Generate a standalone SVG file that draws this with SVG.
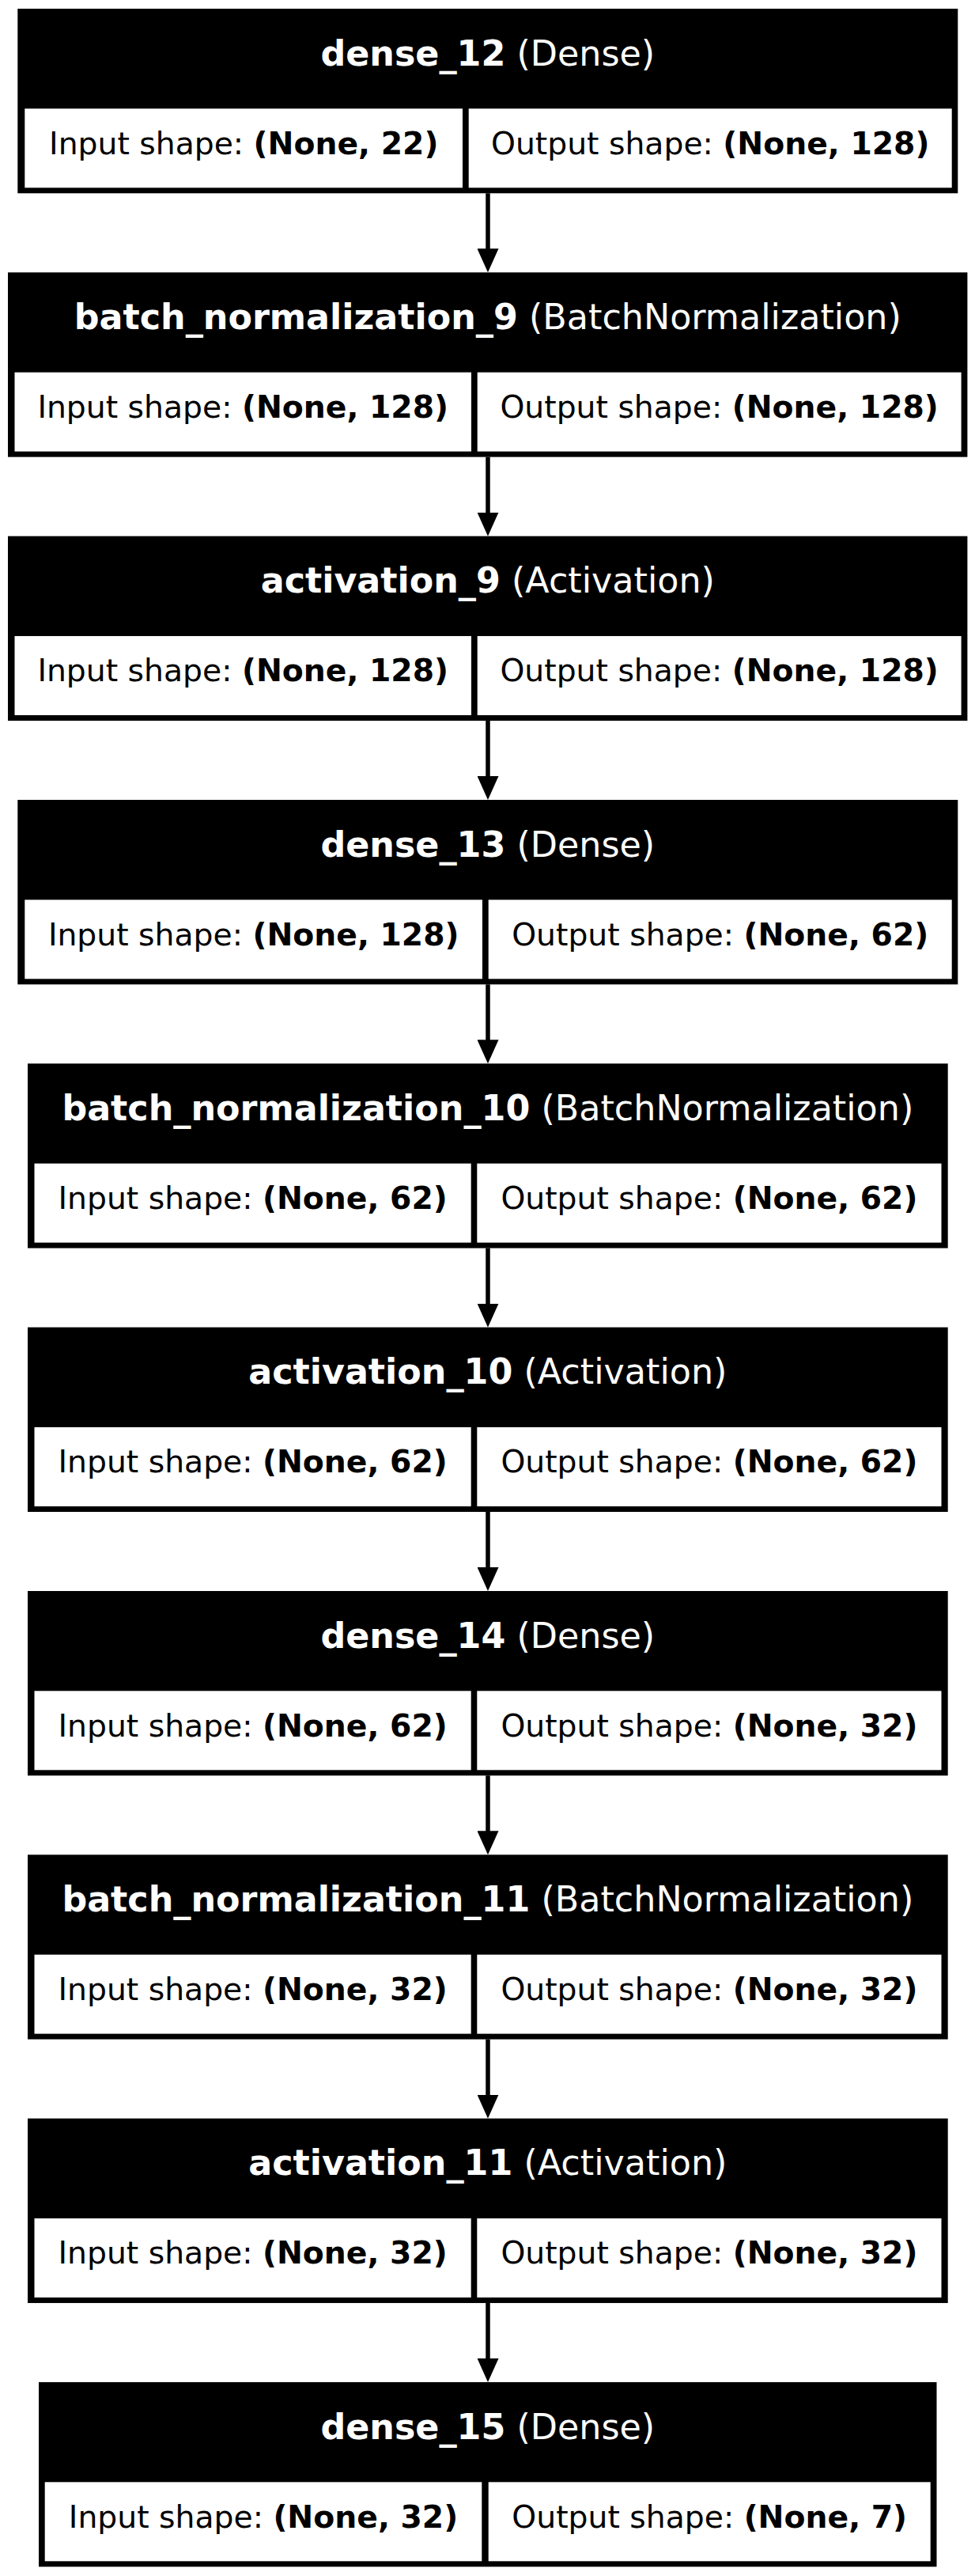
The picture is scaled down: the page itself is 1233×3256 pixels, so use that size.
<svg xmlns="http://www.w3.org/2000/svg" width="1233" height="3256" viewBox="0 0 1233 3256">
<style>
.bg{fill:#ffffff}
.box{fill:#000000}
.cell{fill:#ffffff}
.hd{font-family:"DejaVu Sans","Liberation Sans",sans-serif;font-size:44.4px;fill:#ffffff;text-anchor:middle}
.rw{font-family:"DejaVu Sans","Liberation Sans",sans-serif;font-size:39.3px;fill:#000000;text-anchor:middle}
.b{font-weight:bold}
.edge{stroke:#000000;stroke-width:5.5;fill:none}
</style>
<defs>
<marker id="arr" viewBox="0 0 30 27" refX="2" refY="13.5" markerWidth="30" markerHeight="27" markerUnits="userSpaceOnUse" orient="auto">
<path d="M0,0 L30,13.5 L0,27 z" fill="#000000"/>
</marker>
</defs>
<rect class="bg" x="0" y="0" width="1233" height="3256"/>

<g id="connectors">
<path class="edge" marker-end="url(#arr)" d="M617,244.3 L617,316.3"/>
<path class="edge" marker-end="url(#arr)" d="M617,577.6 L617,649.7"/>
<path class="edge" marker-end="url(#arr)" d="M617,911 L617,983"/>
<path class="edge" marker-end="url(#arr)" d="M617,1244.3 L617,1316.3"/>
<path class="edge" marker-end="url(#arr)" d="M617,1577.6 L617,1649.7"/>
<path class="edge" marker-end="url(#arr)" d="M617,1911 L617,1983"/>
<path class="edge" marker-end="url(#arr)" d="M617,2244.3 L617,2316.3"/>
<path class="edge" marker-end="url(#arr)" d="M617,2577.6 L617,2649.7"/>
<path class="edge" marker-end="url(#arr)" d="M617,2911 L617,2983"/>
</g>

<g id="dense_12" transform="translate(0,11)">
<rect class="box" x="22.3" y="0" width="1189" height="233.3"/>
<rect class="cell" x="31.3" y="126.3" width="553.7" height="100"/>
<rect class="cell" x="592.7" y="126.3" width="611" height="100"/>
<text class="hd" x="616.8" y="71.7"><tspan class="b">dense_12</tspan> (Dense)</text>
<text class="rw" x="308.2" y="183.5">Input shape: <tspan class="b">(None, 22)</tspan></text>
<text class="rw" x="898.2" y="183.5">Output shape: <tspan class="b">(None, 128)</tspan></text>
</g>

<g id="batch_normalization_9" transform="translate(0,344.33)">
<rect class="box" x="10" y="0" width="1213.4" height="233.3"/>
<rect class="cell" x="18.5" y="126.3" width="577.5" height="100"/>
<rect class="cell" x="603.7" y="126.3" width="611.9" height="100"/>
<text class="hd" x="616.8" y="71.7"><tspan class="b">batch_normalization_9</tspan> (BatchNormalization)</text>
<text class="rw" x="307.2" y="183.5">Input shape: <tspan class="b">(None, 128)</tspan></text>
<text class="rw" x="909.6" y="183.5">Output shape: <tspan class="b">(None, 128)</tspan></text>
</g>

<g id="activation_9" transform="translate(0,677.67)">
<rect class="box" x="10" y="0" width="1213.4" height="233.3"/>
<rect class="cell" x="18.5" y="126.3" width="577.5" height="100"/>
<rect class="cell" x="603.7" y="126.3" width="611.9" height="100"/>
<text class="hd" x="616.8" y="71.7"><tspan class="b">activation_9</tspan> (Activation)</text>
<text class="rw" x="307.2" y="183.5">Input shape: <tspan class="b">(None, 128)</tspan></text>
<text class="rw" x="909.6" y="183.5">Output shape: <tspan class="b">(None, 128)</tspan></text>
</g>

<g id="dense_13" transform="translate(0,1011)">
<rect class="box" x="22.3" y="0" width="1189" height="233.3"/>
<rect class="cell" x="31.3" y="126.3" width="578.7" height="100"/>
<rect class="cell" x="617.7" y="126.3" width="586" height="100"/>
<text class="hd" x="616.8" y="71.7"><tspan class="b">dense_13</tspan> (Dense)</text>
<text class="rw" x="320.7" y="183.5">Input shape: <tspan class="b">(None, 128)</tspan></text>
<text class="rw" x="910.7" y="183.5">Output shape: <tspan class="b">(None, 62)</tspan></text>
</g>

<g id="batch_normalization_10" transform="translate(0,1344.33)">
<rect class="box" x="35" y="0" width="1163.7" height="233.3"/>
<rect class="cell" x="43.5" y="126.3" width="552.2" height="100"/>
<rect class="cell" x="603.3" y="126.3" width="587.2" height="100"/>
<text class="hd" x="616.8" y="71.7"><tspan class="b">batch_normalization_10</tspan> (BatchNormalization)</text>
<text class="rw" x="319.6" y="183.5">Input shape: <tspan class="b">(None, 62)</tspan></text>
<text class="rw" x="896.9" y="183.5">Output shape: <tspan class="b">(None, 62)</tspan></text>
</g>

<g id="activation_10" transform="translate(0,1677.67)">
<rect class="box" x="35" y="0" width="1163.7" height="233.3"/>
<rect class="cell" x="43.5" y="126.3" width="552.2" height="100"/>
<rect class="cell" x="603.3" y="126.3" width="587.2" height="100"/>
<text class="hd" x="616.8" y="71.7"><tspan class="b">activation_10</tspan> (Activation)</text>
<text class="rw" x="319.6" y="183.5">Input shape: <tspan class="b">(None, 62)</tspan></text>
<text class="rw" x="896.9" y="183.5">Output shape: <tspan class="b">(None, 62)</tspan></text>
</g>

<g id="dense_14" transform="translate(0,2011)">
<rect class="box" x="35" y="0" width="1163.7" height="233.3"/>
<rect class="cell" x="43.5" y="126.3" width="552.2" height="100"/>
<rect class="cell" x="603.3" y="126.3" width="587.2" height="100"/>
<text class="hd" x="616.8" y="71.7"><tspan class="b">dense_14</tspan> (Dense)</text>
<text class="rw" x="319.6" y="183.5">Input shape: <tspan class="b">(None, 62)</tspan></text>
<text class="rw" x="896.9" y="183.5">Output shape: <tspan class="b">(None, 32)</tspan></text>
</g>

<g id="batch_normalization_11" transform="translate(0,2344.33)">
<rect class="box" x="35" y="0" width="1163.7" height="233.3"/>
<rect class="cell" x="43.5" y="126.3" width="552.2" height="100"/>
<rect class="cell" x="603.3" y="126.3" width="587.2" height="100"/>
<text class="hd" x="616.8" y="71.7"><tspan class="b">batch_normalization_11</tspan> (BatchNormalization)</text>
<text class="rw" x="319.6" y="183.5">Input shape: <tspan class="b">(None, 32)</tspan></text>
<text class="rw" x="896.9" y="183.5">Output shape: <tspan class="b">(None, 32)</tspan></text>
</g>

<g id="activation_11" transform="translate(0,2677.67)">
<rect class="box" x="35" y="0" width="1163.7" height="233.3"/>
<rect class="cell" x="43.5" y="126.3" width="552.2" height="100"/>
<rect class="cell" x="603.3" y="126.3" width="587.2" height="100"/>
<text class="hd" x="616.8" y="71.7"><tspan class="b">activation_11</tspan> (Activation)</text>
<text class="rw" x="319.6" y="183.5">Input shape: <tspan class="b">(None, 32)</tspan></text>
<text class="rw" x="896.9" y="183.5">Output shape: <tspan class="b">(None, 32)</tspan></text>
</g>

<g id="dense_15" transform="translate(0,3011)">
<rect class="box" x="49" y="0" width="1135.5" height="233.3"/>
<rect class="cell" x="56.7" y="126.3" width="552.6" height="100"/>
<rect class="cell" x="617.7" y="126.3" width="559" height="100"/>
<text class="hd" x="616.8" y="71.7"><tspan class="b">dense_15</tspan> (Dense)</text>
<text class="rw" x="333" y="183.5">Input shape: <tspan class="b">(None, 32)</tspan></text>
<text class="rw" x="897.2" y="183.5">Output shape: <tspan class="b">(None, 7)</tspan></text>
</g>
</svg>
